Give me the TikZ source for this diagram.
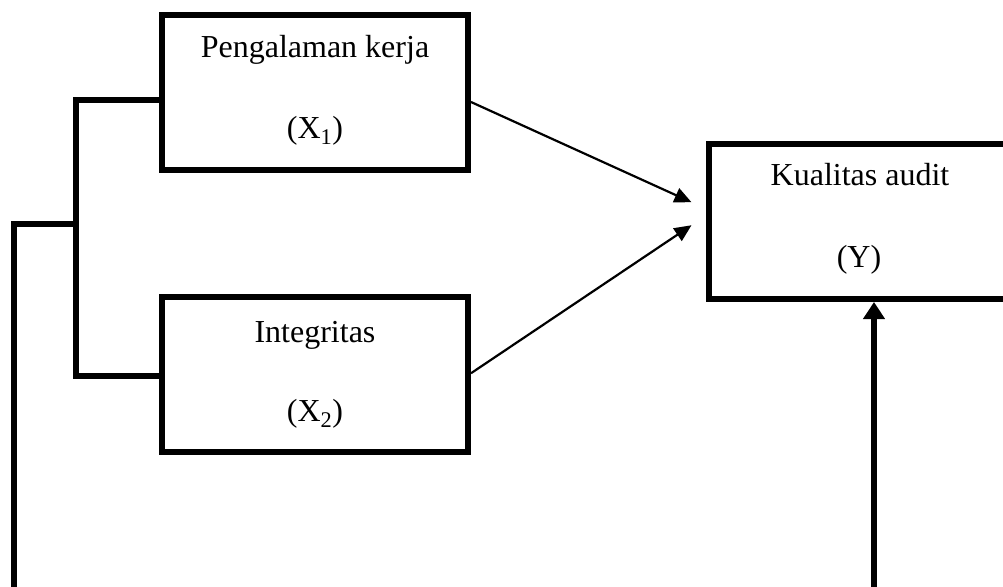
\documentclass[tikz,border=0pt]{standalone}
\usepackage{fontspec}
\setmainfont{Liberation Serif}
\usetikzlibrary{arrows.meta}
\begin{document}
\begin{tikzpicture}[x=1pt,y=-1pt,
  box/.style={draw, line width=6pt, minimum width=306pt, minimum height=155pt, inner sep=0pt, line join=miter},
  lbl/.style={anchor=base, inner sep=0pt, font=\fontsize{32}{38}\selectfont},
  thin/.style={line width=2.2pt, -{Triangle[length=17pt,width=15pt]}},
  brk/.style={line width=6pt, line join=miter},
  thick/.style={line width=6pt, -{Triangle[length=17pt,width=21pt]}}]
\useasboundingbox (0,0) rectangle (1003,586);
\clip (0,0) rectangle (1003,586);
% boxes
\node[box] (x1) at (315,92.5) {};
\node[box] (x2) at (315,374.25) {};
\node[box, minimum width=301.5pt, minimum height=155.5pt] (y) at (859.25,221.25) {};
% texts
\node[lbl] (x1a) at (315,58) {Pengalaman kerja};
\node[lbl] (x1b) at (315,138) {(X\textsubscript{1})};
\node[lbl] (x2a) at (315,342) {Integritas};
\node[lbl] (x2b) at (315,421) {(X\textsubscript{2})};
\node[lbl] (ya) at (860,185) {Kualitas audit};
\node[lbl] (yb) at (859,267) {(Y)};
% coordinates
\coordinate (a1s) at ([yshift=-9.5pt]x1.east);
\coordinate (a1e) at ([xshift=-14pt,yshift=19pt]y.west);
\coordinate (a2s) at ([yshift=1pt]x2.east);
\coordinate (a2e) at ([xshift=-14pt,yshift=-4pt]y.west);
\coordinate (b1) at ([yshift=-7.5pt]x1.west);
\coordinate (b2) at ([yshift=-1.75pt]x2.west);
\coordinate (bx) at (76,224);
\coordinate (ob) at (14,592);
\coordinate (ab) at (874,592);
% arrows
\draw[thin] (a1s) -- (a1e);
\draw[thin] (a2s) -- (a2e);
% bracket
\draw[brk] (b1) -- (76,0 |- b1) -- (76,0 |- b2) -- (b2);
\draw[brk] (ob) -- (ob |- bx) -- (bx);
% bottom arrow
\draw[thick] (ab) -- (ab |- y.south);
\end{tikzpicture}
\end{document}
